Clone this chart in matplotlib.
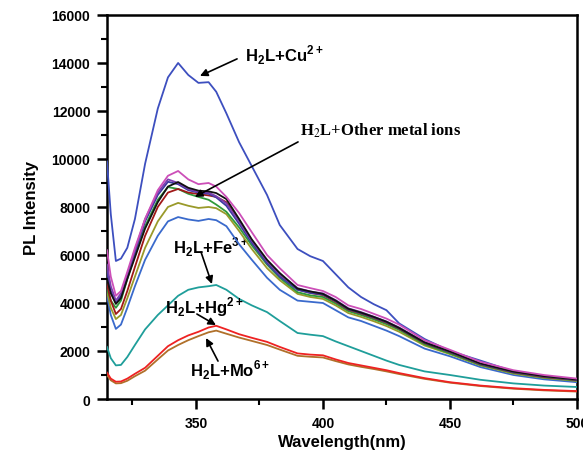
import matplotlib
matplotlib.use("Agg")
import matplotlib.pyplot as plt
from matplotlib.ticker import MultipleLocator

plt.rcParams['font.family'] = ['Liberation Sans', 'DejaVu Sans']
plt.rcParams['mathtext.fontset'] = 'custom'
plt.rcParams['mathtext.rm'] = 'Liberation Sans:bold'
plt.rcParams['mathtext.bf'] = 'Liberation Sans:bold'

wavelength = [315, 316.5, 318.5, 320.5, 323, 326, 330, 335, 339, 343, 347, 351, 355, 358, 362, 367,
              372, 378, 383, 390, 395, 400, 405, 410, 415, 420, 425, 430, 440, 450, 462, 475, 487, 500]

cu = [9900, 7700, 5750, 5850, 6300, 7500, 9800, 12100, 13400, 14000, 13500, 13170, 13200, 12800, 11900, 10700,
      9700, 8500, 7250, 6250, 5950, 5750, 5200, 4650, 4250, 3950, 3700, 3150, 2500, 2000, 1600, 1150, 900, 780]
magenta = [6200, 5100, 4300, 4500, 5300, 6300, 7500, 8700, 9300, 9500, 9150, 8950, 9000, 8850, 8420, 7750,
           6950, 6000, 5450, 4750, 4620, 4500, 4250, 3900, 3750, 3550, 3350, 3100, 2450, 2050, 1550, 1200, 1000, 850]
purple = [5600, 4700, 4100, 4400, 5200, 6200, 7500, 8600, 9150, 9000, 8750, 8620, 8600, 8450, 8150, 7400,
          6600, 5750, 5200, 4620, 4480, 4400, 4120, 3780, 3620, 3430, 3230, 2980, 2380, 1980, 1480, 1140, 950, 810]
navy = [5300, 4500, 4000, 4300, 5100, 6100, 7400, 8500, 9050, 8950, 8700, 8600, 8550, 8400, 8050, 7300,
        6500, 5650, 5100, 4550, 4420, 4350, 4080, 3740, 3580, 3400, 3200, 2950, 2350, 1960, 1460, 1120, 940, 800]
black = [5000, 4400, 3960, 4200, 5000, 5900, 7100, 8200, 8850, 9040, 8800, 8680, 8650, 8580, 8330, 7500,
         6650, 5800, 5250, 4600, 4480, 4380, 4100, 3760, 3600, 3420, 3220, 2960, 2360, 1980, 1480, 1140, 950, 810]
green = [4600, 4100, 3800, 4100, 5000, 6000, 7200, 8300, 8830, 8750, 8550, 8420, 8300, 8100, 7800, 7150,
         6400, 5600, 5050, 4450, 4320, 4250, 3980, 3660, 3500, 3320, 3120, 2880, 2280, 1900, 1420, 1090, 900, 770]
darkred = [4800, 4100, 3540, 3750, 4500, 5500, 6800, 8000, 8600, 8750, 8600, 8540, 8480, 8420, 8200, 7450,
           6600, 5750, 5200, 4560, 4420, 4330, 4050, 3720, 3560, 3380, 3180, 2930, 2330, 1950, 1450, 1110, 920, 790]
olive = [4500, 3800, 3330, 3500, 4200, 5100, 6300, 7400, 8000, 8170, 8050, 7960, 8000, 7950, 7700, 7000,
         6250, 5450, 4950, 4380, 4250, 4170, 3900, 3580, 3420, 3240, 3040, 2800, 2230, 1870, 1400, 1060, 880, 750]
blue = [4300, 3500, 2920, 3100, 3800, 4700, 5800, 6800, 7400, 7580, 7480, 7420, 7500, 7450, 7200, 6450,
        5800, 5050, 4550, 4100, 4050, 4000, 3700, 3400, 3250, 3050, 2850, 2620, 2100, 1780, 1330, 1000, 820, 700]
fe = [2170, 1700, 1400, 1420, 1750, 2250, 2900, 3500, 3900, 4300, 4550, 4650, 4700, 4750, 4550, 4170,
      3900, 3620, 3250, 2750, 2680, 2620, 2400, 2200, 2000, 1800, 1600, 1420, 1150, 1000, 800, 650, 560, 500]
mo = [1000, 780, 650, 660, 760, 950, 1180, 1650, 2020, 2250, 2450, 2620, 2780, 2850, 2720, 2560,
      2420, 2250, 2060, 1800, 1760, 1730, 1580, 1440, 1340, 1250, 1150, 1040, 840, 680, 540, 430, 360, 310]
hg = [1100, 850, 720, 730, 850, 1050, 1300, 1800, 2200, 2450, 2650, 2800, 2980, 3050, 2900, 2700,
      2550, 2380, 2170, 1900, 1850, 1820, 1650, 1500, 1400, 1300, 1200, 1080, 870, 700, 560, 450, 380, 330]

series = [
    (cu, '#3d4fbf'), (blue, '#3a6acc'), (olive, '#9a9a2a'), (green, '#2f9a3a'),
    (darkred, '#a01818'), (navy, '#3b3ba0'), (purple, '#7b3fb0'), (black, '#111111'),
    (magenta, '#cc4fb8'), (fe, '#1f9e9a'), (mo, '#b0702a'), (hg, '#ee2222'),
]

fig = plt.figure(figsize=(5.83, 4.56), dpi=100)
ax = fig.add_axes([0.1835, 0.1228, 0.8062, 0.8422])

for vals, col in series:
    ax.plot(wavelength, vals, color=col, lw=1.3, zorder=3)

ax.set_xlim(315, 500)
ax.set_ylim(0, 16000)
ax.xaxis.set_major_locator(MultipleLocator(50))
ax.xaxis.set_minor_locator(MultipleLocator(25))
ax.yaxis.set_major_locator(MultipleLocator(2000))
ax.yaxis.set_minor_locator(MultipleLocator(1000))
ax.tick_params(which='major', direction='out', length=7, width=1.8, labelsize=10, pad=5)
ax.tick_params(which='minor', direction='out', length=4, width=1.5)
ax.tick_params(top=False, right=False)
for lab in ax.get_xticklabels() + ax.get_yticklabels():
    lab.set_fontweight('bold')
for s in ax.spines.values():
    s.set_linewidth(1.8)

ax.set_xlabel('Wavelength(nm)', fontsize=12, fontweight='bold', labelpad=3)
ax.set_ylabel('PL Intensity', fontsize=12, fontweight='bold', labelpad=9)

arrow = dict(arrowstyle='-|>', color='black', lw=1.2, mutation_scale=11, shrinkA=0, shrinkB=0)

ax.text(369.3, 14375, 'H$_2$L+Cu$^{2+}$', fontsize=12, fontweight='bold', va='center', ha='left', zorder=4)
ax.annotate('', xy=(351.6, 13460), xytext=(366.2, 14170), arrowprops=arrow, zorder=4)

ax.text(391, 11210, 'H$_2$L+Other metal ions', fontsize=12, fontweight='bold', va='center', ha='left',
        family='Liberation Serif', math_fontfamily='stix', zorder=4)
ax.annotate('', xy=(349.6, 8420), xytext=(390.2, 10710), arrowprops=arrow, zorder=4)

ax.text(341, 6375, 'H$_2$L+Fe$^{3+}$', fontsize=12, fontweight='bold', va='center', ha='left', zorder=2)
ax.annotate('', xy=(356.3, 4790), xytext=(352, 6125), arrowprops=arrow, zorder=4)

ax.text(337.8, 3875, 'H$_2$L+Hg$^{2+}$', fontsize=12, fontweight='bold', va='center', ha='left', zorder=4)
ax.annotate('', xy=(357.9, 3080), xytext=(350.4, 3540), arrowprops=arrow, zorder=4)

ax.text(347.7, 1250, 'H$_2$L+Mo$^{6+}$', fontsize=12, fontweight='bold', va='center', ha='left', zorder=4)
ax.annotate('', xy=(354, 2540), xytext=(358.7, 1580), arrowprops=arrow, zorder=4)

fig.savefig('out.png', dpi=100)
